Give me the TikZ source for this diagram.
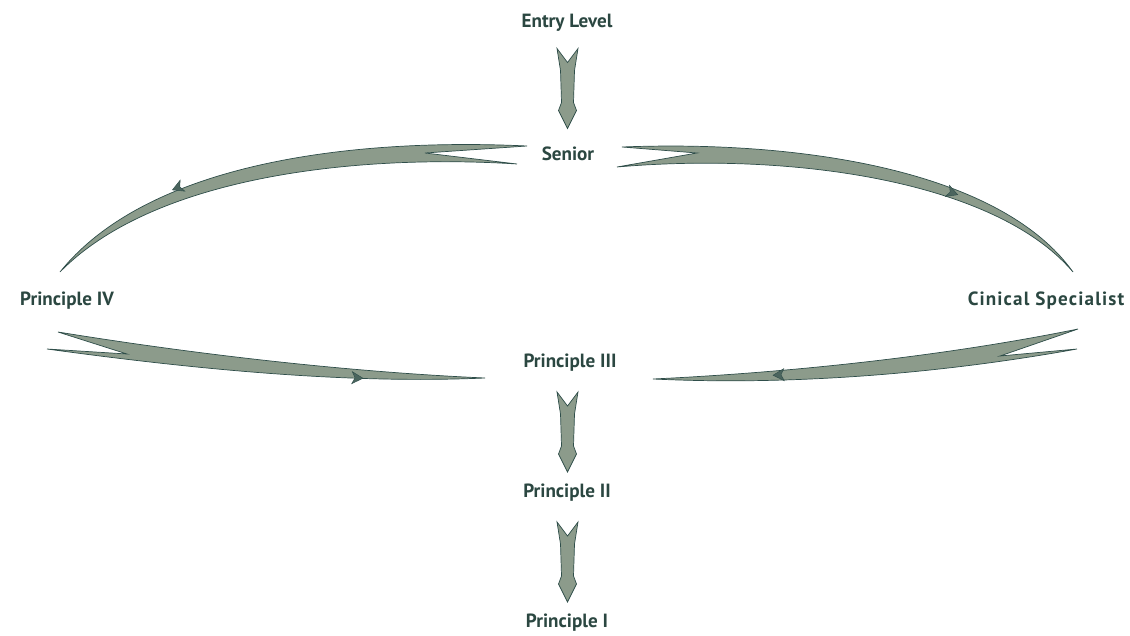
\documentclass[tikz,border=0pt]{standalone}
\usepackage{fontspec}
\setmainfont{PT Sans}
\usetikzlibrary{calc}

\definecolor{feathergreen}{HTML}{8C9B8B}
\definecolor{featheredge}{HTML}{2F4E4A}
\definecolor{labelgreen}{HTML}{2B4741}

\tikzset{
    rank/.style={text=labelgreen, font=\bfseries\fontsize{13.6}{15}\selectfont, inner sep=0pt},
    feather/.style={fill=feathergreen, draw=featheredge, line width=0.5pt, line join=miter},
    barbmark/.style={fill=featheredge!70!feathergreen, draw=featheredge, line width=0.3pt},
    featherdown/.pic={
        \path[feather] (-10.5,-40) -- (0,-26) -- (10.5,-40) -- (7,-18) -- (6,14)
            -- (9,22) -- (0,40) -- (-9,22) -- (-6,14) -- (-7,-18) -- cycle;
    },
    barb/.pic={
        \path[barbmark] (-6,-6) -- (5,0) -- (-6,6) -- (-3,0) -- cycle;
    }
}

\begin{document}
\begin{tikzpicture}[x={(0.025cm,0)}, y={(0,-0.025cm)}]
    \useasboundingbox (0,0) rectangle (1130,636);

    % Career ranks
    \node[rank] (entry) at (567,23) {Entry Level};
    \node[rank] (senior) at (568,154) {Senior};
    \node[rank] (prinIV) at (67,301) {Principle IV};
    \node[rank] (clinspec) at (1046,301) {\addfontfeature{LetterSpace=6}Cinical Specialist};
    \node[rank] (prinIII) at (570,363) {Principle III};
    \node[rank] (prinII) at (567,493) {Principle II};
    \node[rank] (prinI) at (567,623) {Principle I};

    % Straight feathered arrows down the middle
    \pic at ($(entry)!0.5!(senior)+(0,0)$) {featherdown};
    \pic at ($(prinIII)!0.5!(prinII)+(-1,4)$) {featherdown};
    \pic at ($(prinII)!0.5!(prinI)+(0.5,4)$) {featherdown};

    % Senior out to Principle IV, over the top
    \path[feather] ($(senior)+(-41,-8)$)
        .. controls +(-167,-8) and +(90,-112) .. ($(prinIV)+(-7,-29)$)
        .. controls +(95,-97) and +(-157,-10) .. ($(senior)+(-51,10)$)
        -- ($(senior)+(-143,-1)$) -- cycle;

    % Senior out to the specialist
    \path[feather] ($(senior)+(54,-7)$)
        .. controls +(178,-7) and +(-73,-102) .. ($(clinspec)+(27,-29)$)
        .. controls +(-78,-92) and +(173,-15) .. ($(senior)+(49,13)$)
        -- ($(senior)+(129,-1)$) -- cycle;

    % Principle IV back in to Principle III
    \path[feather] ($(prinIV)+(-9,31)$)
        .. controls +(142,23) and +(-135,-6) .. ($(prinIII)+(-85,15)$)
        .. controls +(-135,6) and +(153,21) .. ($(prinIV)+(-20,48)$)
        -- ($(prinIV)+(60,53)$) -- cycle;

    % Specialist back in to Principle III
    \path[feather] ($(clinspec)+(32,28)$)
        .. controls +(-128,26) and +(147,-7) .. ($(prinIII)+(83,16)$)
        .. controls +(147,7) and +(-127,23) .. ($(clinspec)+(31,48)$)
        -- ($(clinspec)+(-46,55)$) -- cycle;

    % Small heads on the curved shafts
    \pic[rotate=203] at (177,188) {barb};
    \pic[rotate=-20] at (953,193) {barb};
    \pic[rotate=-3] at (358,378) {barb};
    \pic[rotate=183] at (778,375) {barb};
\end{tikzpicture}
\end{document}
